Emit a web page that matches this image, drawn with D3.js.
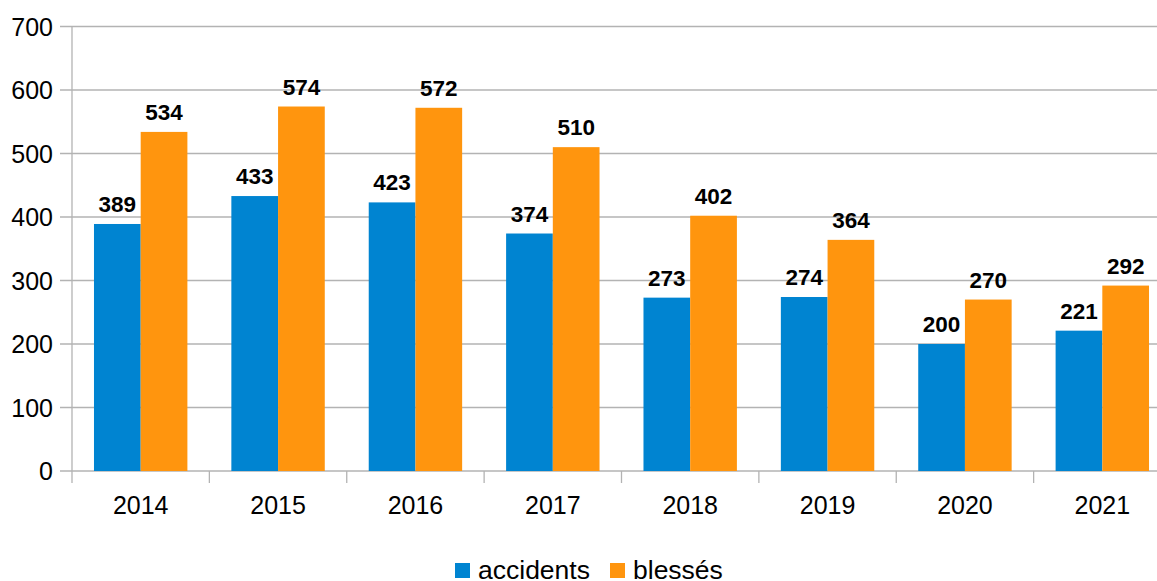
<!DOCTYPE html>
<html><head><meta charset="utf-8">
<script src="https://cdn.jsdelivr.net/npm/d3@7"></script>
<style>body{margin:0;background:#fff;}svg{display:block;font-family:"Liberation Sans",Arial,sans-serif;}</style>
</head><body>
<svg id="c" width="1157" height="581"></svg>
<script>
const years = ["2014","2015","2016","2017","2018","2019","2020","2021"];
const accidents = [389,433,423,374,273,274,200,221];
const blesses = [534,574,572,510,402,364,270,292];
const seriesNames = ["accidents","blessés"];
const colors = ["#0084d1","#ff950e"];
const yTicks = [0,100,200,300,400,500,600,700];

(function(){
const svg = d3.select("#c");
const pLeft = 72, pRight = 1171, pTop = 26.5, pBottom = 471;
const x = d3.scaleBand().domain(years).range([pLeft,pRight]).paddingInner(0.32).paddingOuter(0.16);
const xFull = d3.scaleBand().domain(years).range([pLeft,pRight]);
const y = d3.scaleLinear().domain([0,700]).range([pBottom,pTop]);
const xs = d3.scaleBand().domain(seriesNames).range([0,x.bandwidth()]);

// grid
svg.append("g").selectAll("line").data(yTicks).join("line")
  .attr("x1",60).attr("x2",1157).attr("y1",d=>y(d)).attr("y2",d=>y(d))
  .attr("stroke","#b3b3b3").attr("stroke-width",1.3);
// y labels
svg.append("g").selectAll("text").data(yTicks).join("text")
  .attr("x",53).attr("y",d=>y(d)+9).attr("text-anchor","end")
  .attr("font-size",25).attr("fill","#000").text(d=>d);
// y axis line
svg.append("line").attr("x1",pLeft).attr("x2",pLeft).attr("y1",pTop).attr("y2",483)
  .attr("stroke","#b3b3b3").attr("stroke-width",1.3);
// x ticks
svg.append("g").selectAll("line").data(years.slice(1)).join("line")
  .attr("x1",d=>xFull(d)).attr("x2",d=>xFull(d)).attr("y1",pBottom).attr("y2",483)
  .attr("stroke","#b3b3b3").attr("stroke-width",1.3);
// x labels
svg.append("g").selectAll("text").data(years).join("text")
  .attr("x",d=>xFull(d)+xFull.bandwidth()/2).attr("y",514).attr("text-anchor","middle")
  .attr("font-size",25).attr("fill","#000").text(d=>d);

const data = years.map((yr,i)=>({yr, vals:[accidents[i],blesses[i]]}));
const g = svg.append("g").selectAll("g").data(data).join("g")
  .attr("transform",d=>`translate(${x(d.yr)},0)`);
g.selectAll("rect").data(d=>d.vals.map((v,j)=>({v,s:seriesNames[j],j}))).join("rect")
  .attr("x",d=>xs(d.s)).attr("width",xs.bandwidth())
  .attr("y",d=>y(d.v)).attr("height",d=>pBottom-y(d.v))
  .attr("fill",d=>colors[d.j]);
g.selectAll("text").data(d=>d.vals.map((v,j)=>({v,s:seriesNames[j],j}))).join("text")
  .attr("x",d=>xs(d.s)+xs.bandwidth()/2).attr("y",d=>y(d.v)-12)
  .attr("text-anchor","middle").attr("font-size",22.5).attr("font-weight","bold")
  .attr("fill","#000").text(d=>d.v);

// legend
const lg = svg.append("g");
const legX = [455,610];
seriesNames.forEach((s,i)=>{
  lg.append("rect").attr("x",legX[i]).attr("y",563).attr("width",15).attr("height",15).attr("fill",colors[i]);
  lg.append("text").attr("x",legX[i]+23).attr("y",578.5).attr("font-size",26.5).attr("fill","#000").text(s);
});
})();
</script>
</body></html>
